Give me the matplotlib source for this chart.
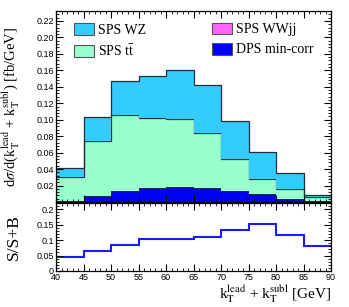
import numpy as np
import matplotlib
matplotlib.use('Agg')
import matplotlib.pyplot as plt
from matplotlib.patches import Patch
from matplotlib.ticker import MultipleLocator, FormatStrFormatter

# bin edges in kT lead + kT subl (GeV)
edges = [40, 45, 50, 55, 60, 65, 70, 75, 80, 85, 90]

# per-process contributions (fb/GeV), stacked bottom -> top
dps_mincorr = [0.0015, 0.0076, 0.0129, 0.0166, 0.0177, 0.0165, 0.0135, 0.0097, 0.0040, 0.0012]
sps_wwjj = [0.0002, 0.0003, 0.0004, 0.0004, 0.0004, 0.0004, 0.0003, 0.0002, 0.0002, 0.0002]
sps_ttbar = [0.0286, 0.0664, 0.0921, 0.0856, 0.0825, 0.0667, 0.0382, 0.0180, 0.0116, 0.0042]
sps_wz = [0.0109, 0.0287, 0.0420, 0.0504, 0.0598, 0.0590, 0.0465, 0.0327, 0.0194, 0.0032]

# S/(S+B) ratio panel
ratio = [0.046, 0.0655, 0.084, 0.103, 0.105, 0.111, 0.131, 0.152, 0.116, 0.082]

plt.rcParams['font.family'] = 'Liberation Sans'
plt.rcParams['mathtext.fontset'] = 'stix'
serif = 'Liberation Serif'

fig = plt.figure(figsize=(3.49, 3.07), dpi=100)
ax = fig.add_axes([0.1605, 0.342, 0.788, 0.622])
axr = fig.add_axes([0.1605, 0.1173, 0.788, 0.2215], sharex=ax)

layers = [
    ('DPS min-corr', dps_mincorr, '#0000ff'),
    ('SPS WWjj', sps_wwjj, '#ff66ff'),
    ('SPS t$\\mathrm{\\bar{t}}$', sps_ttbar, '#99ffcc'),
    ('SPS WZ', sps_wz, '#33ccff'),
]
base = np.zeros(len(edges) - 1)
for name, vals, col in layers:
    top = base + np.array(vals)
    ax.stairs(top, edges, baseline=base, fill=True, color=col, lw=0)
    ax.stairs(top, edges, baseline=None, color='#1f2f3a', lw=0.9)
    base = top

ax.set_xlim(40, 90)
ax.set_ylim(0, 0.232)
ax.set_yticks(np.arange(0.02, 0.221, 0.02))
ax.yaxis.set_major_formatter(FormatStrFormatter('%.2f'))
ax.yaxis.set_minor_locator(MultipleLocator(0.004))
ax.xaxis.set_major_locator(MultipleLocator(5))
ax.xaxis.set_minor_locator(MultipleLocator(1))
ax.tick_params(labelbottom=False)
ax.set_ylabel(r'd$\sigma$/d(k$_{\mathrm{T}}^{\mathrm{lead}}$ + k$_{\mathrm{T}}^{\mathrm{subl}}$) [fb/GeV]',
              family=serif, fontsize=10.5)
ax.yaxis.set_label_coords(-0.125, 0.5)

h_left = [Patch(facecolor='#33ccff', edgecolor='#555555', lw=0.8),
          Patch(facecolor='#99ffcc', edgecolor='#555555', lw=0.8)]
h_right = [Patch(facecolor='#ff66ff', edgecolor='#555555', lw=0.8),
           Patch(facecolor='#0000ff', edgecolor='#555555', lw=0.8)]
leg_kw = dict(frameon=False, loc='upper left', prop={'family': serif, 'size': 10},
              handlelength=1.45, handleheight=0.95, handletextpad=0.3,
              labelspacing=0.45, borderpad=0, borderaxespad=0)
leg1 = ax.legend(h_left, ['SPS WZ', 'SPS t$\\mathrm{\\bar{t}}$'],
                 bbox_to_anchor=(0.065, 0.935), **leg_kw)
ax.add_artist(leg1)
ax.legend(h_right, ['SPS WWjj', 'DPS min-corr'],
          bbox_to_anchor=(0.567, 0.94), **leg_kw)

axr.stairs(ratio, edges, baseline=None, color='#1a1aff', lw=1.5)
axr.set_ylim(0, 0.22)
axr.yaxis.set_major_locator(MultipleLocator(0.05))
axr.yaxis.set_minor_locator(MultipleLocator(0.01))
axr.yaxis.set_major_formatter(FormatStrFormatter('%g'))
axr.set_ylabel('S/S+B', family=serif, fontsize=12.5)
axr.yaxis.set_label_coords(-0.125, 0.5)
axr.set_xlabel(r'k$_{\mathrm{T}}^{\mathrm{lead}}$ + k$_{\mathrm{T}}^{\mathrm{subl}}$ [GeV]',
               family=serif, fontsize=11, labelpad=0)
axr.xaxis.set_label_coords(1.0, -0.19)
axr.xaxis.label.set_horizontalalignment('right')
axr.xaxis.label.set_verticalalignment('top')

for a in (ax, axr):
    a.tick_params(which='both', direction='in', top=True, right=True, labelsize=6.5, pad=1.5)
    a.tick_params(which='major', length=5, width=0.8)
    a.tick_params(which='minor', length=2.5, width=0.6)
    for s in a.spines.values():
        s.set_linewidth(0.9)

fig.savefig('out.png', dpi=100)
